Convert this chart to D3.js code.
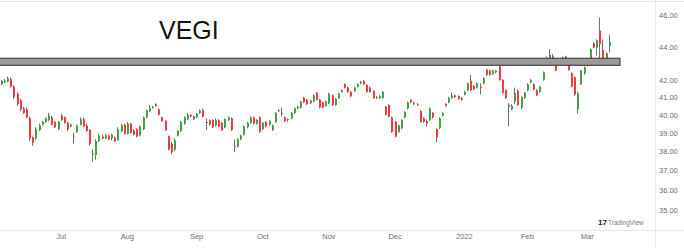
<!DOCTYPE html>
<html>
<head>
<meta charset="utf-8">
<script src="https://cdn.jsdelivr.net/npm/d3@7"></script>
<style>
    body { margin: 0; background: #fff; }
    svg { display: block; font-family: "Liberation Sans", Arial, sans-serif; }
</style>
</head>
<body>
<svg id="canvas" width="684" height="248"></svg>
<script>
let width = 684;
let height = 248;

// Daily candles, oldest first (Jun 2021 .. Mar 2022).
let opens = [41.75, 41.85, 41.9, 42.05, 41.6, 41.2, 40.8, 40.35, 40.3, 39.8,
    38.75, 38.7, 39.15, 39.45, 39.6, 39.7, 39.85, 39.6, 39.2, 39.95,
    39.85, 39.55, 39.35, 38.85, 39.05, 39.45, 39.75, 39.4, 39.15, 37.9,
    37.8, 38.55, 38.8, 38.7, 38.85, 38.7, 38.75, 38.6, 39.1, 39.45,
    38.95, 39.5, 39.1, 39.2, 38.85, 39.2, 39.85, 40.2, 40.4, 40.6,
    40.3, 39.85, 39.65, 38.8, 38.4, 38.1, 38.85, 39.1, 39.5, 39.75,
    39.98, 39.9, 39.85, 40.1, 40.25, 39.6, 39.7, 39.7, 39.4, 39.7,
    39.55, 39.3, 39.7, 39.8, 38.3, 38.25, 38.65, 38.9, 39.3, 39.55,
    39.85, 39.5, 39.85, 39.2, 39.6, 39.45, 39.15, 39.6, 40.2, 40.1,
    39.85, 39.75, 39.8, 40.1, 40.35, 40.4, 40.95, 40.85, 40.65, 40.75,
    41.25, 40.85, 40.7, 40.5, 40.65, 41.1, 40.55, 40.95, 41.3, 41.75,
    41.55, 41.3, 41.35, 41.6, 41.8, 41.95, 41.7, 41.55, 41.35, 40.95,
    40.95, 40.95, 40.45, 40.55, 39.85, 39.6, 39.05, 39.25, 39.85, 40.35,
    40.85, 40.65, 40.58, 40.2, 39.8, 39.65, 39.7, 40.1, 39.2, 39.25,
    39.95, 40.6, 40.7, 40.95, 41.1, 41.05, 40.95, 41.15, 41.4, 41.95,
    41.65, 41.55, 41.6, 41.8, 42.6, 42.55, 42.35, 42.45, 42.8, 42.0,
    41.4, 40.55, 40.3, 40.75, 41.35, 40.4, 40.95, 41.4, 41.85, 41.75,
    41.4, 41.3, 42.0, 43.15, 43.2, 43.4, 43.2, 42.9, 43.2, 43.4,
    43.1, 42.4, 42.15, 40.3, 41.75, 42.4, 42.85, 43.2, 44.2, 43.95,
    45.0, 43.8, 43.1, 44.05];
let highs = [42.0, 42.05, 42.2, 42.15, 41.7, 41.3, 40.9, 40.45, 40.4, 39.9,
    38.8, 39.3, 39.5, 39.65, 39.85, 40.1, 39.95, 39.65, 39.65, 40.05,
    39.9, 39.6, 39.5, 39.0, 39.45, 39.85, 39.85, 39.5, 39.2, 38.1,
    38.65, 38.95, 38.9, 38.95, 38.9, 38.95, 38.8, 39.3, 39.5, 39.5,
    39.6, 39.55, 39.2, 39.25, 39.4, 39.9, 40.3, 40.55, 40.5, 40.65,
    40.35, 39.9, 39.7, 38.85, 38.5, 38.7, 39.15, 39.65, 39.9, 40.1,
    40.05, 39.95, 40.1, 40.3, 40.35, 39.8, 39.75, 39.75, 39.8, 39.75,
    39.6, 39.8, 39.9, 39.85, 38.65, 38.7, 38.9, 39.4, 39.6, 39.9,
    39.9, 39.75, 39.9, 39.6, 39.65, 39.7, 39.45, 40.15, 40.3, 40.4,
    39.9, 39.8, 40.15, 40.4, 40.5, 40.8, 41.0, 40.9, 40.85, 41.15,
    41.3, 40.9, 40.75, 40.8, 41.25, 41.15, 40.95, 41.25, 41.45, 41.8,
    41.6, 41.35, 41.6, 41.8, 41.95, 42.0, 41.75, 41.6, 41.4, 41.05,
    41.1, 41.35, 40.5, 40.6, 39.9, 39.65, 39.45, 39.75, 40.2, 40.75,
    40.9, 40.75, 40.65, 40.25, 39.85, 39.75, 40.4, 40.15, 39.25, 39.85,
    40.15, 40.65, 41.0, 41.25, 41.15, 41.1, 41.0, 41.35, 41.85, 42.3,
    41.7, 41.85, 41.8, 42.15, 42.65, 42.6, 42.6, 42.6, 42.85, 42.05,
    41.45, 40.65, 40.6, 41.55, 41.45, 41.05, 41.3, 41.8, 42.05, 41.8,
    41.45, 41.65, 42.5, 43.4, 43.85, 43.55, 43.25, 43.2, 43.4, 43.45,
    43.15, 42.45, 42.2, 41.3, 42.6, 42.8, 43.25, 43.9, 44.3, 44.45,
    45.85, 44.45, 43.65, 44.75];
let lows = [41.7, 41.8, 41.85, 41.55, 40.9, 40.5, 40.2, 40.05, 39.8, 38.55,
    38.3, 38.6, 39.1, 39.4, 39.55, 39.65, 39.4, 39.25, 39.15, 39.65,
    39.5, 39.1, 39.3, 38.4, 39.0, 39.4, 39.3, 39.05, 38.3, 37.45,
    37.55, 38.5, 38.65, 38.65, 38.6, 38.6, 38.5, 38.55, 39.05, 38.9,
    38.9, 38.95, 38.85, 38.75, 38.8, 39.15, 39.8, 40.15, 40.35, 40.45,
    39.95, 39.6, 39.1, 38.05, 37.85, 38.0, 38.8, 39.05, 39.45, 39.7,
    39.85, 39.7, 39.8, 40.05, 39.85, 39.15, 39.4, 39.25, 39.35, 39.3,
    39.1, 39.25, 39.65, 39.1, 37.95, 38.2, 38.6, 38.85, 39.25, 39.5,
    39.45, 39.45, 39.0, 39.15, 39.3, 39.4, 39.1, 39.55, 40.15, 39.9,
    39.6, 39.6, 39.75, 40.05, 40.3, 40.35, 40.65, 40.55, 40.6, 40.7,
    40.8, 40.35, 40.35, 40.45, 40.6, 40.5, 40.5, 40.9, 41.25, 41.5,
    41.25, 41.0, 41.3, 41.55, 41.75, 41.7, 41.25, 41.25, 40.9, 40.9,
    40.9, 40.9, 39.95, 39.85, 39.0, 38.75, 39.0, 39.2, 39.8, 40.3,
    40.65, 40.55, 40.5, 39.55, 39.55, 39.35, 39.65, 39.8, 38.5, 39.2,
    39.9, 40.45, 40.65, 40.9, 40.95, 40.85, 40.8, 41.1, 41.35, 41.35,
    41.4, 41.5, 41.15, 41.75, 42.25, 42.25, 42.3, 42.4, 41.95, 41.2,
    40.9, 39.35, 40.25, 40.6, 40.5, 40.3, 40.9, 41.35, 41.8, 41.4,
    41.05, 41.25, 41.95, 43.1, 43.0, 43.1, 42.5, 42.85, 43.15, 43.0,
    42.55, 41.55, 41.05, 40.05, 41.7, 42.3, 42.8, 43.15, 43.9, 43.45,
    43.2, 43.05, 43.0, 43.65];
let closes = [41.95, 41.95, 42.1, 41.6, 41.0, 40.6, 40.3, 40.1, 39.85, 38.7,
    38.45, 39.2, 39.4, 39.6, 39.8, 39.95, 39.45, 39.3, 39.6, 39.7,
    39.55, 39.2, 39.45, 38.8, 39.4, 39.75, 39.35, 39.1, 38.4, 37.85,
    38.55, 38.85, 38.7, 38.85, 38.65, 38.9, 38.55, 39.2, 39.4, 38.95,
    39.5, 39.0, 38.9, 38.8, 39.35, 39.85, 40.25, 40.4, 40.45, 40.5,
    40.0, 39.65, 39.15, 38.1, 37.95, 38.6, 39.1, 39.6, 39.85, 40.0,
    39.9, 39.75, 40.05, 40.25, 39.9, 39.55, 39.45, 39.3, 39.7, 39.35,
    39.15, 39.75, 39.85, 39.15, 38.25, 38.65, 38.85, 39.35, 39.55, 39.85,
    39.5, 39.7, 39.05, 39.55, 39.35, 39.65, 39.4, 40.1, 40.25, 40.05,
    39.65, 39.7, 40.1, 40.35, 40.45, 40.75, 40.7, 40.6, 40.8, 41.1,
    40.85, 40.4, 40.4, 40.75, 41.2, 40.55, 40.9, 41.2, 41.4, 41.55,
    41.3, 41.05, 41.55, 41.75, 41.9, 41.75, 41.3, 41.3, 40.95, 41.0,
    41.05, 41.3, 40.0, 39.9, 39.05, 38.8, 39.4, 39.7, 40.15, 40.7,
    40.7, 40.6, 40.55, 39.6, 39.6, 39.5, 40.35, 39.85, 38.75, 39.8,
    40.1, 40.5, 40.95, 41.1, 41.0, 40.9, 40.85, 41.3, 41.8, 41.4,
    41.45, 41.8, 41.55, 42.1, 42.3, 42.3, 42.55, 42.55, 42.0, 41.25,
    40.95, 40.45, 40.5, 41.25, 40.55, 41.0, 41.25, 41.75, 42.0, 41.45,
    41.1, 41.6, 42.45, 43.3, 43.5, 43.15, 42.55, 43.15, 43.35, 43.05,
    42.6, 41.6, 41.15, 41.2, 42.55, 42.75, 43.15, 43.85, 43.95, 44.4,
    44.15, 43.1, 43.6, 44.3];

// Price axis labels and month labels (bar index of first trading day).
let priceTicks = [35, 36, 37, 38, 39, 40, 41, 42, 44, 46];
let monthLabels = ["Jul", "Aug", "Sep", "Oct", "Nov", "Dec", "2022", "Feb", "Mar"];
let monthIndex = [19, 40, 62, 83, 104, 125, 147, 167, 186];

// Horizontal resistance level drawn on the chart.
let levelPrice = 43.08;
let title = "VEGI";

let upColor = "#43a047";
let downColor = "#ef3b3b";
let wickColor = "#6f6f6f";

let canvas = d3.select("#canvas");

let x = d3.scaleLinear().domain([0, 193]).range([0.8, 608.8]);
let y = d3.scaleLog().domain([35, 46]).range([210, 15]);

let bars = opens.map((o, i) => ({ i: i, o: o, h: highs[i], l: lows[i], c: closes[i] }));


function drawFrame() {
    canvas.append("line")
        .attr("x1", 0).attr("x2", width)
        .attr("y1", 1.5).attr("y2", 1.5)
        .attr("stroke", "#e6e6e6");
    canvas.append("line")
        .attr("x1", 0).attr("x2", width)
        .attr("y1", 230.5).attr("y2", 230.5)
        .attr("stroke", "#e8e8e8");
    canvas.append("line")
        .attr("x1", 655.5).attr("x2", 655.5)
        .attr("y1", 0).attr("y2", height)
        .attr("stroke", "#e8e8e8");
}


function drawAxes() {
    let yAxis = d3.axisRight(y)
        .tickValues(priceTicks)
        .tickFormat(d3.format(".2f"))
        .tickSize(0)
        .tickPadding(0);
    canvas.append("g")
        .attr("transform", "translate(659,0)")
        .call(yAxis)
        .call(g => g.select(".domain").remove())
        .selectAll("text")
        .attr("font-size", 7.5)
        .attr("fill", "#6a6d78")
        .attr("font-family", "'Liberation Sans', Arial, sans-serif");

    let xAxis = d3.axisBottom(x)
        .tickValues(monthIndex)
        .tickFormat((d, i) => monthLabels[i])
        .tickSize(0)
        .tickPadding(0);
    canvas.append("g")
        .attr("transform", "translate(0,234)")
        .call(xAxis)
        .call(g => g.select(".domain").remove())
        .selectAll("text")
        .attr("font-size", 7.5)
        .attr("fill", "#6a6d78")
        .attr("font-family", "'Liberation Sans', Arial, sans-serif");
}


function drawCandles() {
    let g = canvas.append("g").classed("candles", true);
    g.selectAll("line")
        .data(bars)
        .enter()
        .append("line")
        .attr("x1", d => Math.round(x(d.i)) + 0.5)
        .attr("x2", d => Math.round(x(d.i)) + 0.5)
        .attr("y1", d => y(d.h))
        .attr("y2", d => y(d.l))
        .attr("stroke", wickColor)
        .attr("stroke-width", 1);
    g.selectAll("rect")
        .data(bars)
        .enter()
        .append("rect")
        .attr("x", d => Math.round(x(d.i)))
        .attr("width", 2)
        .attr("y", d => y(Math.max(d.o, d.c)))
        .attr("height", d => Math.max(1, Math.abs(y(d.o) - y(d.c))))
        .attr("fill", d => d.c >= d.o ? upColor : downColor);
}


function drawLevel() {
    canvas.append("rect")
        .attr("x", -1)
        .attr("width", 621)
        .attr("y", y(levelPrice) - 3.5)
        .attr("height", 7)
        .attr("fill", "#9b9b9b")
        .attr("stroke", "#474747")
        .attr("stroke-width", 1.2);
}


function drawLabels() {
    canvas.append("text")
        .attr("x", 159)
        .attr("y", 39)
        .attr("font-size", 25)
        .attr("fill", "#111")
        .text(title);

    let logo = canvas.append("g").attr("transform", "translate(598,222)");
    logo.append("text")
        .attr("x", 0)
        .attr("y", 3)
        .attr("font-size", 8)
        .attr("font-weight", "bold")
        .attr("fill", "#131722")
        .text("17");
    logo.append("text")
        .attr("x", 10)
        .attr("y", 3)
        .attr("font-size", 6.5)
        .attr("fill", "#787b86")
        .text("TradingView");
}


drawFrame();
drawCandles();
drawLevel();
drawAxes();
drawLabels();
</script>
</body>
</html>
